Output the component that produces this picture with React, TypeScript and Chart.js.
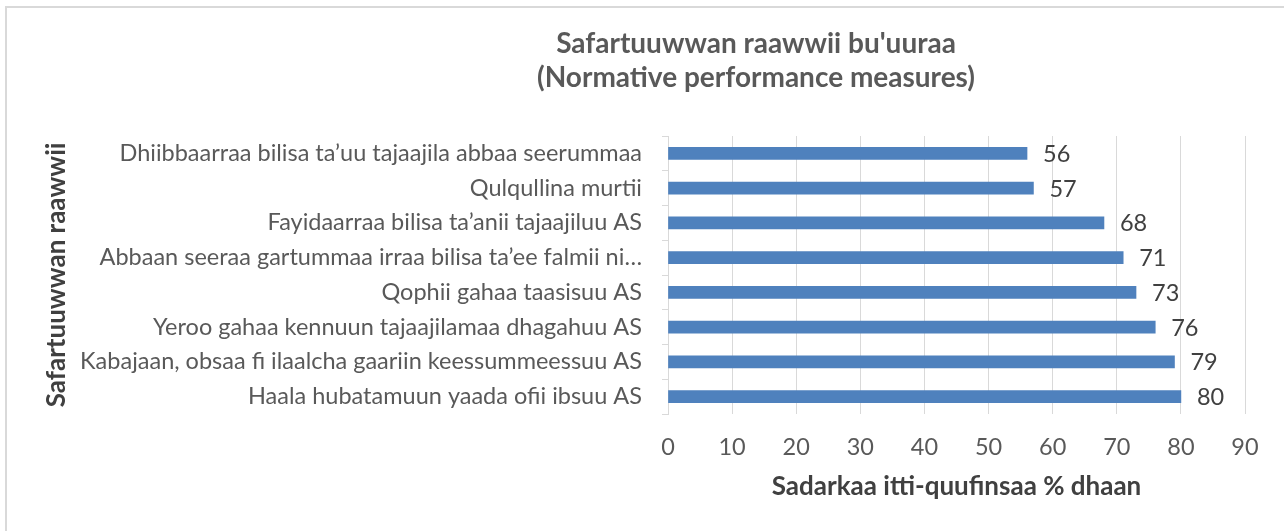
import React, { useEffect, useRef } from "react";
import { Chart, registerables } from "chart.js";

Chart.register(...registerables);

const categories = [
  "Dhiibbaarraa bilisa ta’uu tajaajila abbaa seerummaa",
  "Qulqullina murtii",
  "Fayidaarraa bilisa ta’anii tajaajiluu AS",
  "Abbaan seeraa gartummaa irraa bilisa ta’ee falmii ni…",
  "Qophii gahaa taasisuu AS",
  "Yeroo gahaa kennuun tajaajilamaa dhagahuu AS",
  "Kabajaan, obsaa fi ilaalcha gaariin keessummeessuu AS",
  "Haala hubatamuun yaada ofii ibsuu AS",
];
const values = [56, 57, 68, 71, 73, 76, 79, 80];
const xMin = 0;
const xMax = 90;
const xStep = 10;
const titleLines = ["Safartuuwwan raawwii bu'uuraa", "(Normative performance measures)"];
const xAxisTitle = "Sadarkaa itti-quufinsaa % dhaan";
const yAxisTitle = "Safartuuwwan raawwii";

const FONT = "Lato";

const titlePlugin = {
  id: "customTitle",
  afterDraw(chart: any) {
    const ctx = chart.ctx;
    ctx.save();
    ctx.font = `bold 28px ${FONT}`;
    ctx.fillStyle = "#595959";
    ctx.textAlign = "center";
    ctx.textBaseline = "alphabetic";
    const baselines = [53, 87];
    titleLines.forEach((line, i) => ctx.fillText(line, 756, baselines[i]));
    ctx.restore();
  },
};

const dataLabelPlugin = {
  id: "dataLabels",
  afterDatasetsDraw(chart: any) {
    const ctx = chart.ctx;
    const meta = chart.getDatasetMeta(0);
    ctx.save();
    ctx.font = `23.5px ${FONT}`;
    ctx.fillStyle = "#404040";
    ctx.textAlign = "left";
    ctx.textBaseline = "middle";
    meta.data.forEach((el: any, i: number) => {
      ctx.fillText(String(values[i]), el.x + 16, el.y + 1);
    });
    ctx.restore();
  },
};

export default function App() {
  const ref = useRef<HTMLCanvasElement>(null);
  useEffect(() => {
    if (!ref.current) return;
    const chart = new Chart(ref.current, {
      type: "bar",
      data: {
        labels: categories,
        datasets: [
          {
            data: values,
            backgroundColor: "#4F81BD",
            borderWidth: 0,
            barThickness: 12,
          },
        ],
      },
      options: {
        indexAxis: "y",
        animation: false,
        responsive: false,
        devicePixelRatio: 1,
        layout: { padding: { top: 136, right: 39, bottom: 0, left: 0 } },
        plugins: {
          legend: { display: false },
          title: { display: false },
          tooltip: { enabled: false },
        },
        scales: {
          x: {
            type: "linear",
            min: xMin,
            max: xMax,
            ticks: {
              stepSize: xStep,
              color: "#595959",
              font: { family: FONT, size: 23.5 },
              padding: 19,
            },
            grid: { color: "#d9d9d9", lineWidth: 1, drawTicks: false },
            border: { display: false },
            title: {
              display: true,
              text: xAxisTitle,
              color: "#404040",
              font: { family: FONT, size: 26, weight: "bold" },
              padding: { top: 0, bottom: 29 },
            },
            afterFit(scale: any) {
              scale.height = 117;
            },
          },
          y: {
            type: "category",
            ticks: {
              color: "#595959",
              font: { family: FONT, size: 23.5 },
              padding: 20,
              autoSkip: false,
            },
            grid: {
              drawOnChartArea: false,
              color: "#d9d9d9",
              tickLength: 6,
              offset: true,
            },
            border: { display: true, color: "#d9d9d9", width: 1 },
            title: {
              display: true,
              text: yAxisTitle,
              color: "#404040",
              font: { family: FONT, size: 26, weight: "bold" },
              padding: { top: 41, bottom: 0 },
            },
            afterFit(scale: any) {
              scale.width = 668;
            },
          },
        },
      },
      plugins: [titlePlugin, dataLabelPlugin],
    });
    return () => chart.destroy();
  }, []);

  return (
    <div
      style={{
        position: "fixed",
        left: 0,
        top: 0,
        width: 1284,
        height: 531,
        overflow: "hidden",
        background: "#ffffff",
      }}
    >
      <div
        style={{
          position: "absolute",
          left: 5,
          top: 6,
          width: 1400,
          height: 700,
          border: "2px solid #d9d9d9",
        }}
      />
      <canvas
        ref={ref}
        width={1284}
        height={531}
        style={{ position: "absolute", left: 0, top: 0 }}
      />
    </div>
  );
}
